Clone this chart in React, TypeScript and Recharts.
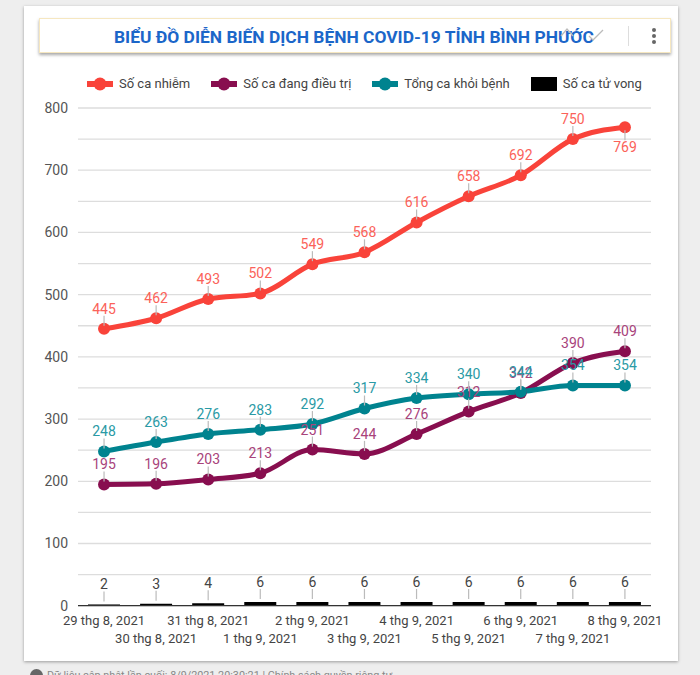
import React from 'react';
import { ComposedChart, Line, Bar, XAxis, YAxis, CartesianGrid, LabelList } from 'recharts';

const dates = ['29 thg 8, 2021', '30 thg 8, 2021', '31 thg 8, 2021', '1 thg 9, 2021', '2 thg 9, 2021', '3 thg 9, 2021', '4 thg 9, 2021', '5 thg 9, 2021', '6 thg 9, 2021', '7 thg 9, 2021', '8 thg 9, 2021'];
const infected = [445, 462, 493, 502, 549, 568, 616, 658, 692, 750, 769];
const treating = [195, 196, 203, 213, 251, 244, 276, 312, 342, 390, 409];
const recovered = [248, 263, 276, 283, 292, 317, 334, 340, 344, 354, 354];
const deaths = [2, 3, 4, 6, 6, 6, 6, 6, 6, 6, 6];
const yTicks = [0, 50, 100, 150, 200, 250, 300, 350, 400, 450, 500, 550, 600, 650, 700, 750, 800];

const RED = '#f9433a';
const PURPLE = '#880e4f';
const TEAL = '#00838f';
const FONT = 'Roboto, sans-serif';

const data = dates.map((date, i) => ({
  date,
  infected: infected[i],
  treating: treating[i],
  recovered: recovered[i],
  deaths: deaths[i],
}));

const legendItems = [
  { name: 'Số ca nhiễm', color: RED, box: false },
  { name: 'Số ca đang điều trị', color: PURPLE, box: false },
  { name: 'Tổng ca khỏi bệnh', color: TEAL, box: false },
  { name: 'Số ca tử vong', color: '#000', box: true },
];

// value label with the little grey stem between mark and text
const stemLabel = (color: string, belowIndex = -1) => (props: any) => {
  const { x, y, width, value, index } = props;
  const cx = x + (width || 0) / 2;
  const dir = index === belowIndex ? 1 : -1;
  return (
    <g>
      <line x1={cx} x2={cx} y1={y + dir * 3} y2={y + dir * 13} stroke="#bbb" strokeWidth={1.2} />
      <text x={cx} y={y + dir * 20} textAnchor="middle" dominantBaseline="central" fontSize={14} fontFamily={FONT} fill={color}>
        {value}
      </text>
    </g>
  );
};

const DateTick = (props: any) => {
  const { x, y, payload, index } = props;
  return (
    <text x={x} y={y + (index % 2 === 1 ? 25 : 7)} textAnchor="middle" dominantBaseline="central" fontSize={13} fontFamily={FONT} fill="#444">
      {payload.value}
    </text>
  );
};

const ChartLegend = () => (
  <div style={{ position: 'absolute', left: 87, top: 75, display: 'flex', gap: 21, fontFamily: FONT, fontSize: 13, color: '#444', lineHeight: '18px' }}>
    {legendItems.map((item) => (
      <div key={item.name} style={{ display: 'flex', alignItems: 'center', gap: 6, whiteSpace: 'nowrap' }}>
        <svg width={26} height={16}>
          {item.box ? (
            <rect x={0} y={1} width={26} height={14} fill={item.color} />
          ) : (
            <g>
              <rect x={0} y={5} width={26} height={6} fill={item.color} />
              <circle cx={13} cy={8} r={6.5} fill={item.color} />
            </g>
          )}
        </svg>
        <span>{item.name}</span>
      </div>
    ))}
  </div>
);

const Header = () => (
  <div style={{ position: 'absolute', left: 39, top: 18, width: 632, height: 35, boxSizing: 'border-box', background: '#fff', border: '1px solid #f6e7c0', boxShadow: '0 2px 3px rgba(0,0,0,0.35)' }}>
    <div style={{ position: 'absolute', left: 74, top: 0, lineHeight: '36px', fontFamily: FONT, fontWeight: 700, fontSize: 17.4, color: '#1b66c9', whiteSpace: 'nowrap' }}>
      BIỂU ĐỒ DIỄN BIẾN DỊCH BỆNH COVID-19 TỈNH BÌNH PHƯỚC
    </div>
    {/* faint sort / check icons sitting over the end of the title */}
    <svg style={{ position: 'absolute', left: 519, top: 8 }} width={46} height={14}>
      <path d="M2 9 L8 2 L14 9 M30 9 L34 13 L44 3" fill="none" stroke="#bbb" strokeWidth={1.3} />
    </svg>
    <div style={{ position: 'absolute', left: 588, top: 7, width: 1, height: 20, background: '#ddd' }} />
    <svg style={{ position: 'absolute', left: 610, top: 8 }} width={8} height={18}>
      <circle cx={4} cy={3} r={2} fill="#666" />
      <circle cx={4} cy={9} r={2} fill="#666" />
      <circle cx={4} cy={15} r={2} fill="#666" />
    </svg>
  </div>
);

export default function App() {
  return (
    <div style={{ position: 'absolute', left: 0, top: 0, width: 700, height: 675, overflow: 'hidden', background: '#eee' }}>
      <div style={{ position: 'absolute', left: 24, top: 6, width: 654, height: 655, background: '#fff', boxShadow: '0 1px 3px rgba(0,0,0,0.35)' }} />
      <div style={{ position: 'absolute', left: 0, top: 0 }}>
        <ComposedChart width={700} height={675} data={data} margin={{ top: 108, right: 49, bottom: 39.3, left: 18 }}>
          <CartesianGrid vertical={false} stroke="#ddd" strokeWidth={1.3} />
          <XAxis dataKey="date" height={30} interval={0} tickLine={false} axisLine={{ stroke: '#333', strokeWidth: 1.3 }} tick={<DateTick />} />
          <YAxis
            width={60}
            domain={[0, 800]}
            ticks={yTicks}
            interval={0}
            tickLine={false}
            axisLine={false}
            tickMargin={4}
            tickFormatter={(v: number) => (v % 100 === 0 ? String(v) : '')}
            tick={{ fontSize: 14, fontFamily: FONT, fill: '#555' }}
          />
          <Bar dataKey="deaths" fill="#000" barSize={32} isAnimationActive={false}>
            <LabelList dataKey="deaths" content={stemLabel('#444')} />
          </Bar>
          <Line dataKey="infected" type="monotone" stroke={RED} strokeWidth={5} dot={{ r: 6, fill: RED, stroke: RED, strokeWidth: 0 }} isAnimationActive={false}>
            <LabelList dataKey="infected" content={stemLabel('#fb6259', 10)} />
          </Line>
          <Line dataKey="treating" type="monotone" stroke={PURPLE} strokeWidth={5} dot={{ r: 6, fill: PURPLE, stroke: PURPLE, strokeWidth: 0 }} isAnimationActive={false}>
            <LabelList dataKey="treating" content={stemLabel('#a8437b')} />
          </Line>
          <Line dataKey="recovered" type="monotone" stroke={TEAL} strokeWidth={5} dot={{ r: 6, fill: TEAL, stroke: TEAL, strokeWidth: 0 }} isAnimationActive={false}>
            <LabelList dataKey="recovered" content={stemLabel('#2a9aa5')} />
          </Line>
        </ComposedChart>
      </div>
      <Header />
      <ChartLegend />
      <div style={{ position: 'absolute', left: 30, top: 669, display: 'flex', alignItems: 'center', gap: 4, fontFamily: FONT, fontSize: 10.8, color: '#888', whiteSpace: 'nowrap' }}>
        <span style={{ width: 13, height: 13, borderRadius: '50%', background: '#666', display: 'inline-block' }} />
        <span>Dữ liệu cập nhật lần cuối: 8/9/2021 20:30:21 | Chính sách quyền riêng tư</span>
      </div>
    </div>
  );
}
